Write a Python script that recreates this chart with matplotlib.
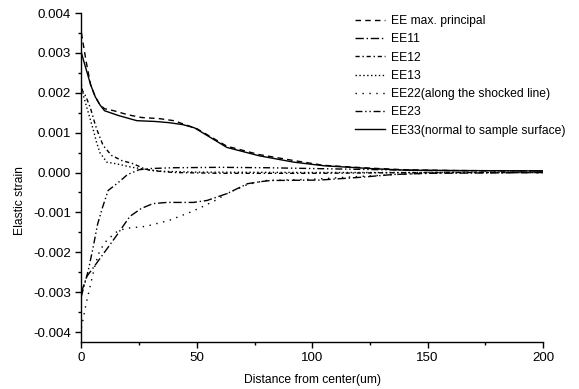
import numpy as np
import matplotlib
matplotlib.use("Agg")
import matplotlib.pyplot as plt
from matplotlib.ticker import MultipleLocator, FormatStrFormatter

plt.rcParams['font.family'] = ['Liberation Sans', 'DejaVu Sans']
plt.rcParams['font.size'] = 8.7

# ---------------- data ----------------
x_max = [0, 2, 4, 6, 8, 10, 14, 20, 26, 34, 40, 45, 50, 63, 77, 92, 105, 125, 140, 160, 200]
ee_max = [0.0035, 0.0028, 0.0022, 0.0019, 0.0017, 0.0016, 0.00155, 0.00145, 0.00138, 0.00135,
          0.0013, 0.0012, 0.0011, 0.00066, 0.00045, 0.0003, 0.00018, 0.00011, 0.00007, 0.00005, 0.00004]

x_11 = [0, 2.4, 5, 10, 15, 21, 26, 31, 37, 48.5, 54.5, 63, 72, 77.5, 82, 103, 121, 135, 150, 200]
ee11 = [-0.003, -0.0026, -0.0024, -0.002, -0.0016, -0.0011, -0.0009, -0.00078, -0.00075, -0.00075,
        -0.0007, -0.00053, -0.00028, -0.00023, -0.0002, -0.00019, -0.00012, -0.00005, -0.00002, 0.0]

x_12 = [0, 2, 4, 6, 7.2, 9.4, 13, 17.5, 22.5, 27, 30, 40, 60, 100, 150, 200]
ee12 = [0.0021, 0.0019, 0.0016, 0.0012, 0.001, 0.00068, 0.00043, 0.0003, 0.00022, 0.0001,
        0.00005, 0.0, -0.00002, -0.00002, 0.0, 0.0]

x_13 = [0, 1, 2, 3, 4, 5, 6.6, 8, 11, 15, 22, 28, 35, 50, 100, 200]
ee13 = [0.0022, 0.0019, 0.0017, 0.0015, 0.0013, 0.0011, 0.00075, 0.0005, 0.00026, 0.00022,
        0.00013, 0.00008, 0.00003, 0.00001, 0.0, 0.0]

x_22 = [0, 1, 2, 4, 6, 8, 11, 15, 19, 28, 38, 47, 52, 58, 64, 72, 80, 100, 120, 140, 160, 200]
ee22 = [-0.0039, -0.0036, -0.0033, -0.0028, -0.0023, -0.00195, -0.0017, -0.0015, -0.0014, -0.00135,
        -0.0012, -0.001, -0.00087, -0.0007, -0.0005, -0.0003, -0.0002, -0.00017, -0.0001, -0.00004, 0.0, 0.0]

x_23 = [0, 3, 5, 7, 9, 11.6, 16, 20, 25, 30, 40, 60, 80, 100, 120, 150, 200]
ee23 = [-0.0031, -0.00245, -0.0019, -0.0013, -0.0009, -0.00045, -0.00025, -0.00005, 0.00007, 0.0001,
        0.00012, 0.00013, 0.00012, 0.0001, 0.00008, 0.00005, 0.00004]

x_33 = [0, 2, 4, 6, 8, 10, 16, 24, 32, 38, 44, 49, 63, 77, 92, 105, 125, 140, 160, 200]
ee33 = [0.003, 0.0026, 0.0022, 0.0019, 0.0017, 0.00155, 0.00143, 0.0013, 0.00128, 0.00125,
        0.0012, 0.00112, 0.00063, 0.00042, 0.00026, 0.00017, 0.0001, 0.00006, 0.00005, 0.00004]

series = [
    (x_max, ee_max, "EE max. principal", (0, (4, 3))),
    (x_11, ee11, "EE11", (0, (6, 2, 1, 2))),
    (x_12, ee12, "EE12", (0, (3, 2, 1, 2))),
    (x_13, ee13, "EE13", (0, (1, 1.8))),
    (x_22, ee22, "EE22(along the shocked line)", (0, (1, 4))),
    (x_23, ee23, "EE23", (0, (5, 2, 1, 2, 1, 2))),
    (x_33, ee33, "EE33(normal to sample surface)", "-"),
]

fig = plt.figure(figsize=(5.79, 3.89), dpi=100)
ax = fig.add_axes([81.4 / 579, 1 - 342 / 389, (543 - 81.4) / 579, (342 - 13) / 389])

for xs, ys, label, ls in series:
    ax.plot(xs, ys, color="black", lw=1.0, linestyle=ls, label=label)

ax.set_xlim(0, 200)
ax.set_ylim(-0.00425, 0.004)
ax.xaxis.set_major_locator(MultipleLocator(50))
ax.xaxis.set_minor_locator(MultipleLocator(25))
ax.yaxis.set_major_locator(MultipleLocator(0.001))
ax.yaxis.set_minor_locator(MultipleLocator(0.0005))
ax.yaxis.set_major_formatter(FormatStrFormatter("%.3f"))

for side in ("top", "right"):
    ax.spines[side].set_visible(False)
ax.spines["left"].set_linewidth(1.0)
ax.spines["bottom"].set_linewidth(1.0)
ax.tick_params(which="major", direction="out", length=4, width=1, labelsize=9.6)
ax.tick_params(which="minor", direction="out", length=2.5, width=1)

ax.set_xlabel("Distance from center(um)", fontsize=8.7, labelpad=7)
ax.set_ylabel("Elastic strain", fontsize=8.7)
ax.yaxis.set_label_coords(-0.121, 0.43)

ax.legend(loc="upper left", bbox_to_anchor=(355 / 579, 1 - 15 / 389),
          bbox_transform=fig.transFigure, frameon=False, fontsize=8.7,
          borderpad=0, borderaxespad=0, handlelength=2.5, handletextpad=0.5,
          labelspacing=0.52)

fig.savefig("out.png", dpi=100)
